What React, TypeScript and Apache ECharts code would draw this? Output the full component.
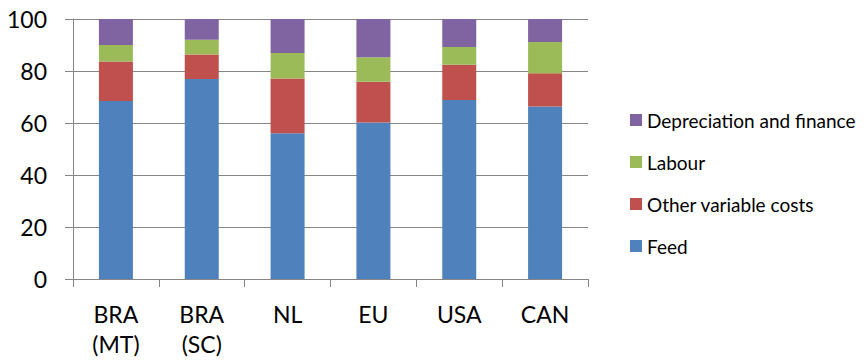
import React, { useEffect, useRef } from "react";
import * as echarts from "echarts";

// Cost shares (%) per production region
const categories = ["BRA\n(MT)", "BRA\n(SC)", "NL", "EU", "USA", "CAN"];
const feed = [68.5, 76.9, 56.1, 60.2, 68.8, 66.3];
const otherVariable = [15.2, 9.4, 21.0, 15.7, 13.6, 12.8];
const labour = [6.3, 5.7, 9.8, 9.4, 6.8, 12.1];
const depreciation = [10.0, 8.0, 13.1, 14.7, 10.8, 8.8];
const yTicks = { min: 0, max: 100, interval: 20 };

const FONT = "Lato, 'Open Sans', sans-serif";
const GRID_GRAY = "#868686";

export default function App() {
  const ref = useRef<HTMLDivElement>(null);

  useEffect(() => {
    if (!ref.current) return;
    const chart = echarts.init(ref.current, undefined, { renderer: "svg" });

    const bar = (name: string, data: number[], color: string) => ({
      name,
      type: "bar",
      stack: "total",
      barWidth: 34,
      data,
      itemStyle: { color },
    });

    chart.setOption({
      animation: false,
      textStyle: { fontFamily: FONT },
      grid: { left: 73, right: 276, top: 19, bottom: 81 },
      legend: {
        orient: "vertical",
        left: 625,
        top: 105,
        itemWidth: 12,
        itemHeight: 12,
        itemGap: 22,
        icon: "rect",
        data: ["Depreciation and finance", "Labour", "Other variable costs", "Feed"],
        textStyle: { fontFamily: FONT, fontSize: 19, color: "#000", lineHeight: 20, padding: [0, 0, 0, 0] },
      },
      xAxis: {
        type: "category",
        data: categories,
        axisLine: { lineStyle: { color: GRID_GRAY, width: 1 } },
        axisTick: { show: true, length: 8, alignWithLabel: false, lineStyle: { color: GRID_GRAY } },
        axisLabel: {
          color: "#000",
          fontFamily: FONT,
          fontSize: 23,
          lineHeight: 30,
          margin: 20,
          interval: 0,
        },
      },
      yAxis: {
        type: "value",
        min: yTicks.min,
        max: yTicks.max,
        interval: yTicks.interval,
        axisLine: { show: true, lineStyle: { color: GRID_GRAY, width: 1 } },
        axisTick: { show: true, length: 8, lineStyle: { color: GRID_GRAY } },
        splitLine: { lineStyle: { color: GRID_GRAY, width: 1 } },
        axisLabel: { color: "#000", fontFamily: FONT, fontSize: 23, margin: 26 },
      },
      series: [
        bar("Feed", feed, "#4F81BD"),
        bar("Other variable costs", otherVariable, "#C0504D"),
        bar("Labour", labour, "#9BBB59"),
        bar("Depreciation and finance", depreciation, "#8064A2"),
      ],
    });

    return () => chart.dispose();
  }, []);

  return <div ref={ref} style={{ width: 864, height: 360, position: "absolute", left: 0, top: 0 }} />;
}
